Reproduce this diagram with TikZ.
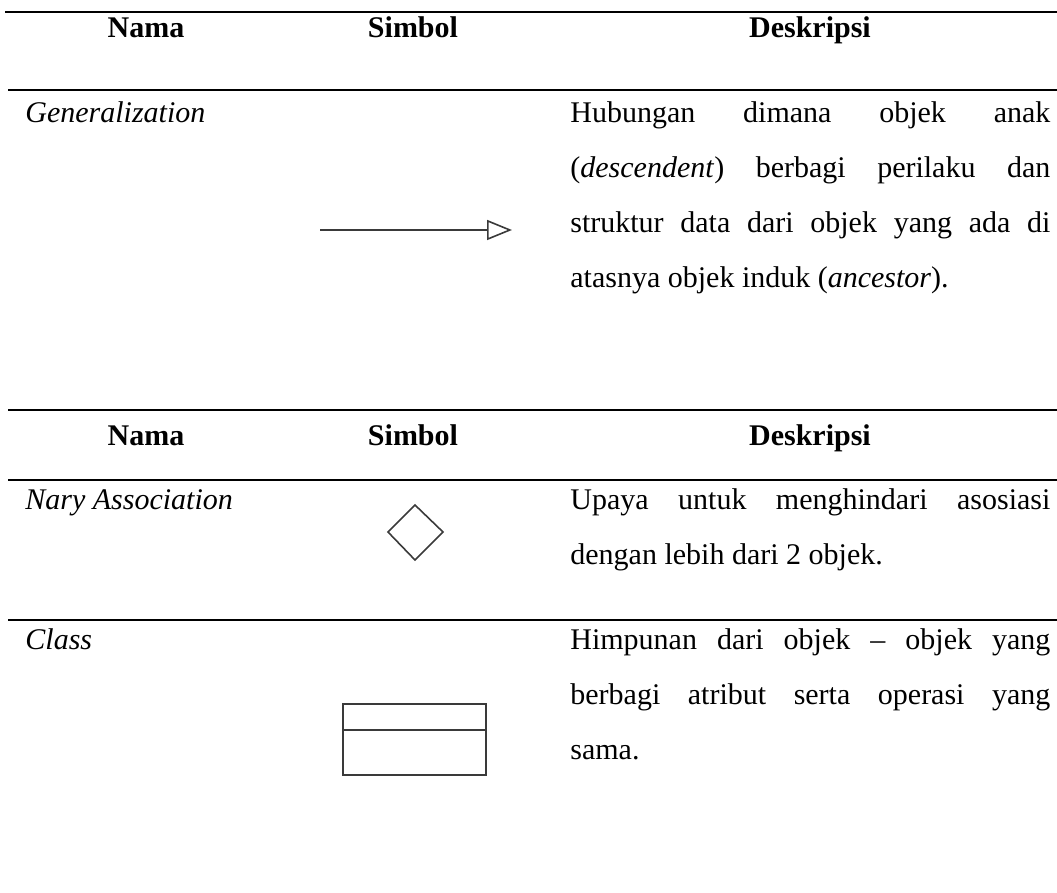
\documentclass[tikz,border=0pt]{standalone}
\usepackage{fontspec}
\setmainfont{Liberation Serif}
\usetikzlibrary{arrows.meta}
\definecolor{symgray}{HTML}{3A3A3A}
\begin{document}
\begin{tikzpicture}[x=0.5pt,y=-0.5pt,
  rule/.style={line width=1.2pt},
  body/.style={inner sep=0pt, font=\fontsize{15}{27.5}\selectfont},
  head/.style={body, font=\fontsize{15}{27.5}\selectfont\bfseries, anchor=base},
  label/.style={body, font=\fontsize{15}{27.5}\selectfont\itshape, anchor=base west},
  desc/.style={body, anchor=base west, text width=240pt, align=justify,
    execute at begin node={\hyphenpenalty=10000\exhyphenpenalty=10000\tolerance=10000}},
  sym/.style={draw=symgray, line width=0.8pt}]
\useasboundingbox (0,0) rectangle (1057,893);

% ---- first table: generalization ----
\draw[rule] (5,12) -- (1057,12);
\node[head] (h1n) at (146,38) {Nama};
\node[head] (h1s) at (413,38) {Simbol};
\node[head] (h1d) at (810,38) {Deskripsi};
\draw[rule] (8,90) -- (1057,90);

\node[label] (gen) at (25,123) {Generalization};
\node[desc] (gend) at (570,123) {Hubungan dimana objek anak\linebreak
  (\textit{descendent}) berbagi perilaku dan\linebreak
  struktur data dari objek yang ada di\linebreak
  atasnya objek induk (\textit{ancestor}).};
\coordinate (genA) at (320,230);
\coordinate (genB) at (512,230);
\draw[sym, -{Triangle[open, length=12.5pt, width=10pt]}] (genA) -- (genB);

% ---- second table: n-ary association and class ----
\draw[rule] (8,410) -- (1057,410);
\node[head] (h2n) at (146,446) {Nama};
\node[head] (h2s) at (413,446) {Simbol};
\node[head] (h2d) at (810,446) {Deskripsi};
\draw[rule] (8,480) -- (1057,480);

\node[label] (nary) at (25,510) {Nary Association};
\node[desc] (naryd) at (570,510) {Upaya untuk menghindari asosiasi\linebreak
  dengan lebih dari 2 objek.};
\draw[sym] (388,532) -- (415,505) -- (443,532) -- (415,560) -- cycle;

\draw[rule] (8,620) -- (1057,620);
\node[label] (cls) at (25,650) {Class};
\node[desc] (clsd) at (570,650) {Himpunan dari objek -- objek yang\linebreak
  berbagi atribut serta operasi yang\linebreak
  sama.};
\draw[sym] (343,704) rectangle (486,775);
\draw[sym] (343,730) -- (486,730);
\end{tikzpicture}
\end{document}
